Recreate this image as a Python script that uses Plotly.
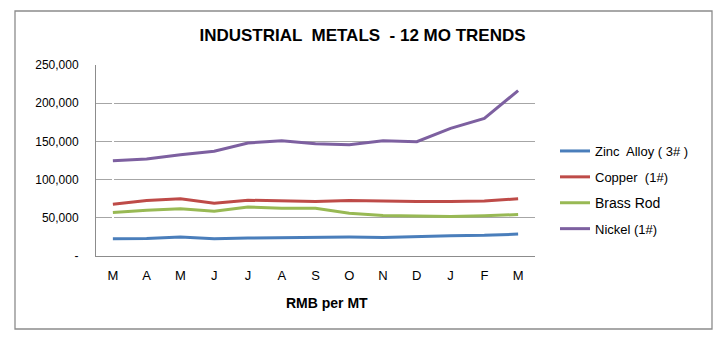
import plotly.graph_objects as go

months = ["M", "A", "M", "J", "J", "A", "S", "O", "N", "D", "J", "F", "M"]
zinc = [22600, 23000, 24800, 22600, 23500, 24000, 24300, 24800, 24300, 25600, 26500, 27000, 28700]
copper = [67800, 72600, 74800, 69000, 73000, 72000, 71300, 72600, 71700, 71300, 71300, 72000, 75000]
brass = [57000, 60000, 62000, 58700, 64000, 62600, 62600, 56000, 53000, 52600, 51700, 52600, 54300]
nickel = [124800, 127000, 132600, 137000, 148000, 151000, 147000, 145700, 151000, 149600, 167000, 180000, 216500]

series = [
    ("Zinc  Alloy ( 3# )", zinc, "#4a7ebb", 13),
    ("Copper  (1#)", copper, "#be4b48", 13),
    ("Brass Rod", brass, "#98b954", 14),
    ("Nickel (1#)", nickel, "#7d60a0", 13),
]
yticks = [0, 50000, 100000, 150000, 200000, 250000]
yticktext = ["-", "50,000", "100,000", "150,000", "200,000", "250,000"]

x = list(range(len(months)))
fig = go.Figure()
for i, (name, vals, col, fs) in enumerate(series):
    fig.add_trace(go.Scatter(x=x, y=vals, name=f"<span style='font-size:{fs}px'>{name}</span>",
                             mode="lines", line=dict(color=col, width=3), legendgroup=str(i)))

W = 725 - 96 - 190
H = 347 - 65 - 91
fig.update_layout(
    width=725, height=347,
    margin=dict(l=96, r=190, t=65, b=91),
    paper_bgcolor="white", plot_bgcolor="white",
    font=dict(family="Liberation Sans, Arial, sans-serif", color="black", size=12),
    title=dict(text="<b>INDUSTRIAL  METALS  - 12 MO TRENDS</b>", x=0.5, xanchor="center",
               y=1 - 35 / 347, yanchor="middle", font=dict(size=17)),
    showlegend=True,
    legend=dict(x=1 + 20 / W, xanchor="left", y=(256 - 190) / H, yanchor="middle", xref="paper",
                tracegroupgap=6, itemwidth=30, font=dict(size=13),
                bgcolor="rgba(0,0,0,0)"),
    shapes=[dict(type="rect", xref="paper", yref="paper",
                 x0=(15 - 96) / W, x1=(712 - 96) / W,
                 y0=-(329 - 256) / H, y1=1 + (65 - 11) / H,
                 line=dict(color="#8c8c8c", width=1.3), layer="below")],
    annotations=[dict(text="<b>RMB per MT</b>", xref="paper", yref="paper",
                      x=(327 - 96) / W, y=-(303 - 256) / H, xanchor="center", yanchor="middle",
                      showarrow=False, font=dict(size=14))],
)
fig.update_xaxes(tickvals=x, ticktext=months, range=[-0.5, 12.5], showgrid=False,
                 showline=True, linecolor="#8c8c8c", linewidth=1, ticks="",
                 tickfont=dict(size=13), ticklabelstandoff=7)
fig.update_yaxes(range=[0, 250000], tickvals=yticks, ticktext=yticktext,
                 showgrid=True, gridcolor="#a6a6a6", gridwidth=1,
                 showline=True, linecolor="#8c8c8c", zeroline=False, ticks="",
                 tickfont=dict(size=12), ticklabelstandoff=14)

fig.write_html("out.html")
